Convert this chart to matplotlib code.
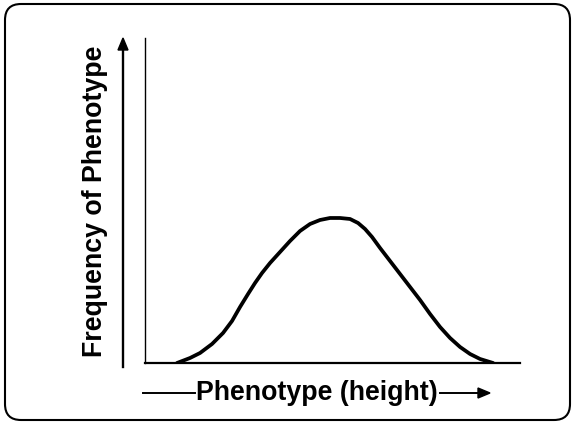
import matplotlib
matplotlib.use("Agg")
import matplotlib.pyplot as plt
from matplotlib.patches import FancyBboxPatch

plt.rcParams['font.family'] = ['Liberation Sans', 'DejaVu Sans']

# phenotype (height) vs frequency
altura = [32, 45, 55, 67, 78, 87, 95, 103, 110, 117, 125, 135, 145, 155, 165,
          175, 185, 195, 205, 213, 220, 227, 235, 245, 255, 265, 275, 285,
          295, 305, 315, 325, 335, 348]
frequencia = [0, 5, 10, 19, 30, 42, 56, 69, 80, 90, 100, 111, 122, 132, 139,
              143, 145, 145, 144, 140, 134, 126, 115, 102, 89, 76, 63, 49,
              36, 25, 16, 9, 4, 0]

rotulo_x = "Phenotype (height)"
rotulo_y = "Frequency of Phenotype"

fig = plt.figure(figsize=(5.73, 4.24), dpi=100)

# moldura arredondada
moldura = FancyBboxPatch((0.05, 0.04), 5.65, 4.16,
                         boxstyle="round,pad=0,rounding_size=0.16",
                         transform=fig.dpi_scale_trans, fill=False,
                         edgecolor="black", linewidth=1.5)
fig.patches.append(moldura)

ax = fig.add_axes([0.2531, 0.1439, 0.6545, 0.7665])
ax.plot(altura, frequencia, color="black", linewidth=2.7,
        solid_capstyle="round", solid_joinstyle="round")
ax.set_xlim(0, 375)
ax.set_ylim(0, 325)
ax.spines["top"].set_visible(False)
ax.spines["right"].set_visible(False)
ax.spines["left"].set_linewidth(1.0)
ax.spines["bottom"].set_linewidth(1.6)
ax.set_xticks([])
ax.set_yticks([])

# seta vertical
fig.add_artist(plt.Line2D([123 / 573, 123 / 573], [1 - 367 / 424, 1 - 48 / 424],
                          color="black", linewidth=1.7))
fig.patches.append(matplotlib.patches.FancyArrow(
    123 / 573, 1 - 50 / 424, 0, 12 / 424, width=0, head_width=10 / 573,
    head_length=12 / 424, length_includes_head=True, color="black",
    transform=fig.transFigure))

fig.text(95 / 573, 1 - 201 / 424, rotulo_y, rotation=90, ha="center",
         va="center", fontsize=19.3, fontweight="bold")

# rótulo do eixo x com setas
fig.text(317 / 573, 1 - 393 / 424, rotulo_x, ha="center", va="center",
         fontsize=19.3, fontweight="bold")
fig.add_artist(plt.Line2D([143 / 573, 195 / 573], [1 - 393 / 424] * 2,
                          color="black", linewidth=1.4))
fig.add_artist(plt.Line2D([440 / 573, 480 / 573], [1 - 393 / 424] * 2,
                          color="black", linewidth=1.4))
fig.patches.append(matplotlib.patches.FancyArrow(
    478 / 573, 1 - 393 / 424, 12 / 573, 0, width=0, head_width=10 / 424,
    head_length=12 / 573, length_includes_head=True, color="black",
    transform=fig.transFigure))

plt.savefig("out.png", dpi=100)
plt.close()
